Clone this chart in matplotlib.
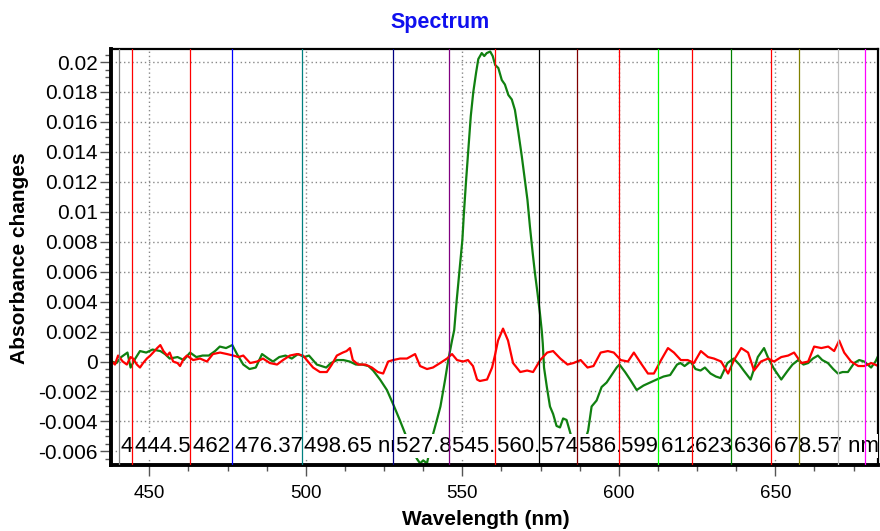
import matplotlib
matplotlib.use('Agg')
import matplotlib.pyplot as plt
from matplotlib.ticker import MultipleLocator, AutoMinorLocator
import matplotlib.transforms as mtransforms

plt.rcParams['font.family'] = ['Liberation Sans', 'DejaVu Sans']

# green trace (wavelength nm, absorbance change)
green_wl = [438.0, 439.5, 441.0, 443.0, 444.0, 445.5, 447.0, 449.0, 451.0, 453.5,
            455.0, 456.5, 459.0, 461.0, 463.0, 465.0, 467.0, 469.0, 471.0, 472.5,
            474.5, 476.5, 478.0, 480.0, 482.0, 484.0, 486.0, 488.0, 489.5, 491.5,
            493.5, 495.5, 497.5, 499.5, 501.0, 503.5, 506.5, 508.0, 510.0, 512.0,
            514.0, 516.0, 518.0, 520.0, 521.5, 523.7, 525.9, 528.0, 530.0, 531.7,
            533.5, 535.5, 536.5, 537.5, 538.7, 539.7, 540.7, 542.0, 543.0, 544.5,
            545.5, 546.7, 547.4, 548.2, 549.2, 550.0, 550.5, 551.2, 551.9, 552.7,
            553.5, 554.4, 555.1, 556.2, 557.0, 557.8, 558.9, 559.7, 560.5, 561.5,
            562.6, 563.6, 564.7, 565.8, 566.8, 567.9, 569.0, 570.0, 570.8, 571.6,
            572.5, 573.2, 574.0, 574.8, 575.4, 575.7, 576.1, 577.0, 578.0, 579.0,
            580.1, 581.2, 582.2, 583.3, 584.4, 585.5, 587.0, 588.5, 590.2, 591.3,
            592.9, 594.5, 596.1, 597.7, 599.3, 600.2, 602.0, 603.6, 605.7, 607.9,
            610.0, 612.1, 614.3, 616.4, 618.6, 619.7, 621.0, 622.9, 624.5, 626.1,
            627.5, 629.3, 631.0, 632.5, 634.7, 636.7, 638.5, 639.9, 642.1, 643.2,
            644.4, 646.4, 647.6, 649.6, 651.9, 654.0, 655.5, 657.3, 659.0, 660.5,
            662.0, 663.6, 665.0, 666.8, 668.5, 670.0, 671.5, 673.2, 675.2, 676.8,
            678.4, 680.6, 682.0, 682.9]
green_val = [0.0000, -0.0001, 0.0003, 0.0006, -0.0004, 0.0002, 0.0007, 0.0006, 0.0008, 0.0007,
             0.0005, 0.0002, 0.0003, 0.0001, 0.0006, 0.0003, 0.0004, 0.0004, 0.0007, 0.0010,
             0.0009, 0.0011, 0.0005, -0.0002, -0.0005, -0.0004, 0.0005, 0.0002, 0.0000, 0.0003,
             0.0004, 0.0002, 0.0005, 0.0003, 0.0004, -0.0002, -0.0004, -0.0001, 0.0001, 0.0001,
             0.0000, -0.0002, -0.0002, -0.0003, -0.0006, -0.0012, -0.0019, -0.0029, -0.0039, -0.0048,
             -0.0057, -0.0065, -0.0068, -0.0066, -0.0068, -0.0058, -0.0048, -0.0038, -0.0030, -0.0012,
             0.0001, 0.0014, 0.0021, 0.0041, 0.0063, 0.0081, 0.0099, 0.0121, 0.0141, 0.0164,
             0.0180, 0.0193, 0.0202, 0.0206, 0.0204, 0.0206, 0.0207, 0.0204, 0.0198, 0.0196,
             0.0188, 0.0185, 0.0178, 0.0175, 0.0168, 0.0153, 0.0137, 0.0121, 0.0108, 0.0090,
             0.0072, 0.0059, 0.0046, 0.0032, 0.0020, 0.0012, -0.0004, -0.0017, -0.0030, -0.0035,
             -0.0043, -0.0044, -0.0038, -0.0039, -0.0047, -0.0055, -0.0062, -0.0058, -0.0046, -0.0030,
             -0.0026, -0.0017, -0.0014, -0.0009, -0.0004, -0.0002, -0.0007, -0.0012, -0.0019, -0.0016,
             -0.0014, -0.0012, -0.0010, -0.0009, -0.0002, -0.0001, -0.0003, 0.0000, -0.0005, -0.0006,
             -0.0004, -0.0008, -0.0010, -0.0011, -0.0001, 0.0002, -0.0002, -0.0006, -0.0012, -0.0005,
             0.0003, 0.0009, 0.0003, -0.0005, -0.0012, -0.0006, -0.0002, 0.0001, -0.0002, -0.0001,
             0.0002, 0.0004, 0.0001, -0.0001, -0.0005, -0.0008, -0.0007, -0.0007, -0.0001, 0.0001,
             0.0000, -0.0004, 0.0000, 0.0004]

# red trace
red_wl = [438.0, 439.0, 440.0, 441.5, 442.8, 444.0, 444.8, 446.0, 447.0, 448.0,
          449.2, 450.3, 451.2, 452.5, 453.5, 454.5, 455.7, 456.5, 457.6, 459.0,
          459.8, 461.0, 462.0, 464.0, 466.2, 468.4, 470.3, 472.6, 474.8, 476.8,
          478.5, 480.0, 482.2, 484.4, 486.3, 488.5, 490.8, 492.7, 494.9, 497.2,
          499.1, 500.3, 502.3, 504.5, 506.7, 508.3, 509.9, 511.8, 513.0, 514.1,
          515.0, 516.7, 519.0, 521.1, 523.0, 524.7, 526.3, 527.9, 530.1, 532.3,
          534.9, 536.5, 538.7, 540.6, 542.9, 545.1, 546.7, 548.3, 550.2, 551.8,
          553.4, 554.7, 555.6, 557.9, 559.5, 560.4, 561.4, 563.0, 564.6, 566.2,
          568.5, 570.7, 572.6, 574.9, 577.1, 579.0, 581.3, 583.6, 585.5, 587.8,
          590.0, 591.9, 594.2, 596.5, 598.4, 600.6, 602.9, 604.8, 607.0, 609.3,
          611.2, 613.5, 615.7, 617.6, 619.8, 622.0, 624.0, 626.2, 628.5, 630.4,
          632.7, 634.9, 636.8, 639.1, 641.3, 643.2, 645.4, 647.7, 649.6, 651.9,
          654.1, 656.0, 658.3, 660.5, 662.4, 664.7, 666.9, 668.8, 670.4, 672.0,
          674.2, 676.5, 678.4, 680.7, 682.9]
red_val = [0.0000, -0.0002, 0.0004, 0.0000, -0.0002, 0.0003, 0.0002, -0.0002, -0.0004, -0.0001,
           0.0002, 0.0004, 0.0006, 0.0009, 0.0011, 0.0007, 0.0004, 0.0006, 0.0000, -0.0001,
           -0.0003, 0.0002, 0.0004, 0.0001, 0.0002, 0.0000, 0.0005, 0.0006, 0.0005, 0.0004,
           0.0003, 0.0004, -0.0001, 0.0000, 0.0002, -0.0001, -0.0002, 0.0001, 0.0004, 0.0005,
           0.0004, 0.0001, -0.0004, -0.0007, -0.0007, -0.0002, 0.0004, 0.0006, 0.0007, 0.0009,
           0.0001, -0.0002, -0.0002, -0.0004, -0.0007, -0.0008, 0.0000, 0.0001, 0.0002, 0.0002,
           0.0005, -0.0003, -0.0005, -0.0004, -0.0001, 0.0002, 0.0005, 0.0001, 0.0000, 0.0001,
           -0.0003, -0.0012, -0.0013, -0.0012, -0.0004, 0.0004, 0.0014, 0.0022, 0.0014, -0.0001,
           -0.0007, -0.0006, -0.0007, 0.0001, 0.0006, 0.0007, 0.0002, -0.0002, -0.0001, 0.0001,
           -0.0004, -0.0003, 0.0006, 0.0007, 0.0006, 0.0001, 0.0000, 0.0006, -0.0001, -0.0008,
           -0.0008, 0.0001, 0.0009, 0.0006, 0.0001, 0.0001, -0.0001, 0.0007, 0.0003, 0.0002,
           0.0000, -0.0008, 0.0001, 0.0009, 0.0006, -0.0006, 0.0000, 0.0002, 0.0000, 0.0003,
           0.0004, 0.0006, -0.0001, 0.0000, 0.0010, 0.0009, 0.0010, 0.0007, 0.0014, 0.0006,
           0.0000, -0.0003, -0.0003, -0.0001, -0.0003]

# marker lines and their labels
marker_wl = [440.2, 444.5, 462.9, 476.37, 498.65, 527.85, 545.85, 560.3, 574.4,
             586.5, 599.9, 612.6, 623.5, 635.8, 648.6, 657.5, 670.0, 678.57]
marker_text = ['440.2 nm', '444.5 nm', '462.9 nm', '476.37 nm', '498.65 nm', '527.85 nm',
               '545.85 nm', '560.3 nm', '574.4 nm', '586.5 nm', '599.9 nm', '612.6 nm',
               '623.5 nm', '636.8 nm', '678.57 nm', '', '', '']
marker_color = ['#808080', '#ff0000', '#ff0000', '#0000ff', '#008080', '#000080',
                '#800080', '#ff0000', '#000000', '#800000', '#ff0000', '#00ff00',
                '#ff0000', '#008000', '#ff0000', '#808000', '#c0c0c0', '#ff00ff']

fig = plt.figure(figsize=(8.8, 5.31), dpi=100)
ax = fig.add_axes([0.1267, 0.1234, 0.8710, 0.7843])

ax.plot(green_wl, green_val, color='#108010', lw=1.6, zorder=2)
ax.plot(red_wl, red_val, color='#ff0000', lw=1.6, zorder=2.1)

for wl, txt, c in zip(marker_wl, marker_text, marker_color):
    ax.axvline(wl, color=c, lw=0.9, zorder=4)
    if txt:
        off = mtransforms.offset_copy(ax.transData, fig=fig, x=2, y=0, units='points')
        ax.text(wl, -0.00565, txt, transform=off, fontsize=16, va='center', ha='left',
                bbox=dict(facecolor='white', edgecolor='none', pad=1.0),
                clip_on=True, zorder=3)

ax.set_xlim(437.9, 682.8)
ax.set_ylim(-0.00694, 0.02087)

ax.xaxis.set_major_locator(MultipleLocator(50))
ax.xaxis.set_minor_locator(AutoMinorLocator(4))
ax.yaxis.set_major_locator(MultipleLocator(0.002))
ax.yaxis.set_minor_locator(AutoMinorLocator(4))
ax.yaxis.set_major_formatter(plt.FuncFormatter(lambda v, p: ('%g' % round(v, 4))))

ax.grid(True, which='major', color='#888888', linestyle=(0, (1, 2)), lw=1.0, zorder=0.5)
ax.set_axisbelow(True)
ax.tick_params(which='major', length=8, width=1, color='#555555', direction='out')
ax.tick_params(which='minor', length=4, width=1, color='#555555', direction='out')
ax.tick_params(axis='y', labelsize=15, pad=2)
ax.tick_params(axis='x', labelsize=13.5, pad=6)

for side in ['left', 'bottom']:
    ax.spines[side].set_linewidth(2.8)
for side in ['top', 'right']:
    ax.spines[side].set_linewidth(1.6)

fig.text(0.552, 0.021, 'Wavelength (nm)', ha='center', va='center', fontsize=15,
         fontweight='bold')
fig.text(0.022, 0.514, 'Absorbance changes', ha='center', va='center', fontsize=15,
         fontweight='bold', rotation=90)

fig.text(0.5, 0.958, 'Spectrum', ha='center', va='center', fontsize=15.5,
         fontweight='bold', color='#1010ee')

fig.savefig('out.png', dpi=100)
